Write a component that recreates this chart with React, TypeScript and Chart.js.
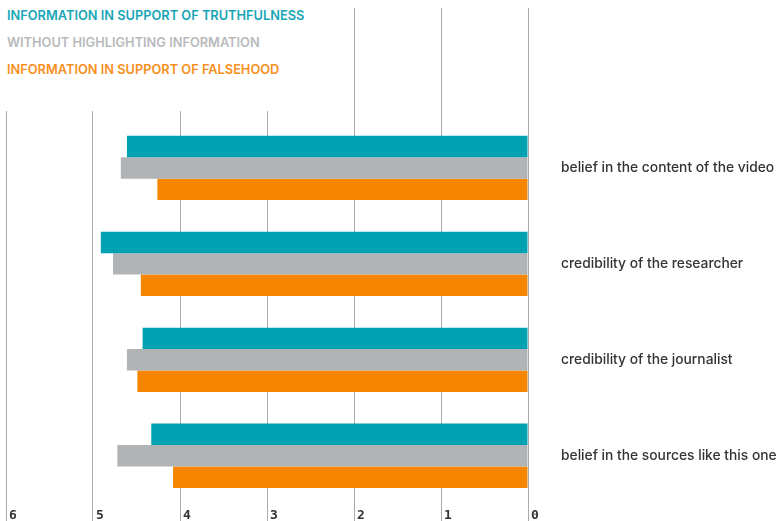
import React, { useEffect, useRef } from "react";
import { Chart, registerables } from "chart.js";

Chart.register(...registerables);

const categories = [
  "belief in the content of the video",
  "credibility of the researcher",
  "credibility of the journalist",
  "belief in the sources like this one",
];
const seriesNames = [
  "INFORMATION IN SUPPORT OF TRUTHFULNESS",
  "WITHOUT HIGHLIGHTING INFORMATION",
  "INFORMATION IN SUPPORT OF FALSEHOOD",
];
const truthfulness = [4.61, 4.91, 4.43, 4.33];
const withoutHighlighting = [4.68, 4.77, 4.61, 4.72];
const falsehood = [4.26, 4.45, 4.49, 4.08];
const xTicks = [0, 1, 2, 3, 4, 5, 6];

const barColors = ["#00a1b1", "#b1b4b6", "#f68600"];
const legendColors = ["#18a6b6", "#b8babc", "#f7901e"];
const gridColor = "#ababab";

export default function App() {
  const ref = useRef<HTMLCanvasElement | null>(null);
  useEffect(() => {
    if (!ref.current) return;
    const chart = new Chart(ref.current, {
      type: "bar",
      data: {
        labels: categories,
        datasets: [truthfulness, withoutHighlighting, falsehood].map((d, i) => ({
          label: seriesNames[i],
          data: d,
          backgroundColor: barColors[i],
          borderWidth: 0,
          categoryPercentage: 0.67,
          barPercentage: 1,
        })),
      },
      options: {
        indexAxis: "y",
        animation: false,
        responsive: true,
        maintainAspectRatio: false,
        layout: { padding: { top: 8, left: 6, right: 0, bottom: 0 } },
        plugins: { legend: { display: false }, tooltip: { enabled: false } },
        scales: {
          x: {
            type: "linear",
            position: "bottom",
            min: 0,
            max: 6,
            reverse: true,
            afterBuildTicks: (s: any) => {
              s.ticks = xTicks.map((v) => ({ value: v }));
            },
            afterFit: (s: any) => {
              s.height = 30;
            },
            grid: { color: gridColor, lineWidth: 1, tickLength: 30, drawTicks: true },
            border: { display: false },
            ticks: {
              align: "start",
              labelOffset: 3,
              padding: -26,
              color: "#333",
              font: { family: "DejaVu Sans Mono", size: 13, weight: "bold" },
            },
          },
          x2: {
            type: "linear",
            position: "top",
            min: 0,
            max: 6,
            reverse: true,
            afterBuildTicks: (s: any) => {
              s.ticks = xTicks.map((v) => ({ value: v }));
            },
            afterFit: (s: any) => {
              s.height = 112;
            },
            grid: { color: gridColor, lineWidth: 1, tickLength: 112, drawOnChartArea: false },
            border: { display: false },
            ticks: { display: false },
          },
          y: {
            type: "category",
            position: "right",
            afterFit: (s: any) => {
              s.width = 248;
            },
            grid: { display: false, drawTicks: false },
            border: { display: false },
            ticks: {
              padding: 33,
              color: "#333",
              font: { family: "Inter", size: 13.8, weight: "500" },
            },
          },
        },
      },
    });
    return () => chart.destroy();
  }, []);

  return (
    <div
      style={{
        position: "fixed",
        left: 0,
        top: 0,
        width: 776,
        height: 521,
        overflow: "hidden",
        background: "#fff",
      }}
    >
      <div style={{ position: "relative", width: 776, height: 545 }}>
        <canvas ref={ref} />
      </div>
      <div
        style={{
          position: "absolute",
          left: 0,
          top: 0,
          width: 312,
          height: 111,
          background: "#fff",
        }}
      >
        {seriesNames.map((n, i) => (
          <div
            key={n}
            style={{
              position: "absolute",
              left: 7,
              top: 8 + i * 27,
              fontFamily: "Inter",
              fontWeight: 600,
              fontSize: 12.8,
              lineHeight: "16px",
              color: legendColors[i],
              whiteSpace: "nowrap",
            }}
          >
            {n}
          </div>
        ))}
      </div>
    </div>
  );
}
